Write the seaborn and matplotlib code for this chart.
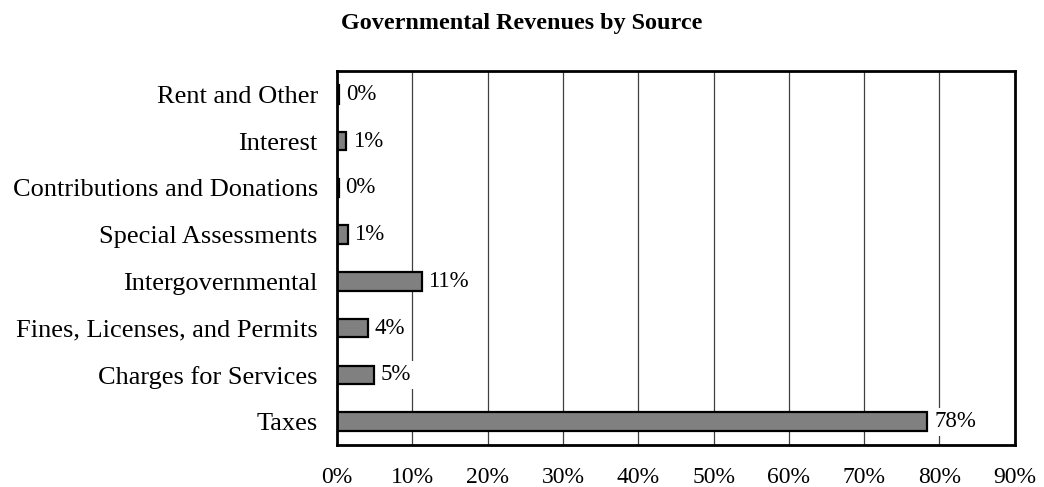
import matplotlib
matplotlib.use("Agg")
import matplotlib.pyplot as plt
import seaborn as sns
import pandas as pd

sources = [
    "Rent and Other",
    "Interest",
    "Contributions and Donations",
    "Special Assessments",
    "Intergovernmental",
    "Fines, Licenses, and Permits",
    "Charges for Services",
    "Taxes",
]
shares = [0.3, 1.2, 0.2, 1.4, 11.2, 4.1, 4.9, 78.4]
x_ticks = [0, 10, 20, 30, 40, 50, 60, 70, 80, 90]

df = pd.DataFrame({"source": sources, "share": shares})

sns.set_style("white")
plt.rcParams["font.family"] = ["Liberation Serif", "DejaVu Serif"]
plt.rcParams["text.color"] = "black"
plt.rcParams["xtick.color"] = "black"
plt.rcParams["ytick.color"] = "black"

fig = plt.figure(figsize=(10.44, 4.87), dpi=100)
ax = fig.add_axes([0.323, 0.0862, 0.649, 0.768])

# vertical gridlines behind the bars
for t in x_ticks[1:-1]:
    ax.axvline(t, color="#404040", lw=0.9, zorder=0)

sns.barplot(data=df, y="source", x="share", orient="h", order=sources,
            color="#808080", saturation=1, width=0.4,
            edgecolor="black", linewidth=1.6, ax=ax, zorder=2)

for i, v in enumerate(shares):
    ax.text(v + 0.9, i, f"{v:.0f}%", va="center", ha="left", fontsize=16.5,
            color="black",
            bbox=dict(facecolor="white", edgecolor="none", pad=2.5), zorder=3)

ax.set_xlim(0, 90)
ax.set_ylim(7.5, -0.5)
ax.set_xticks(x_ticks)
ax.set_xticklabels([f"{t}%" for t in x_ticks], fontsize=17)
ax.tick_params(axis="x", length=0, pad=15.5, labelcolor="black")
ax.tick_params(axis="y", length=0, pad=14, labelsize=19, labelcolor="black")
ax.set_xlabel("")
ax.set_ylabel("")

for s in ax.spines.values():
    s.set_visible(True)
    s.set_color("black")
    s.set_linewidth(2)

fig.text(0.5, 0.952, "Governmental Revenues by Source", ha="center", va="center",
         fontsize=17.4, fontweight="bold", color="black")

fig.savefig("out.png", dpi=100)
